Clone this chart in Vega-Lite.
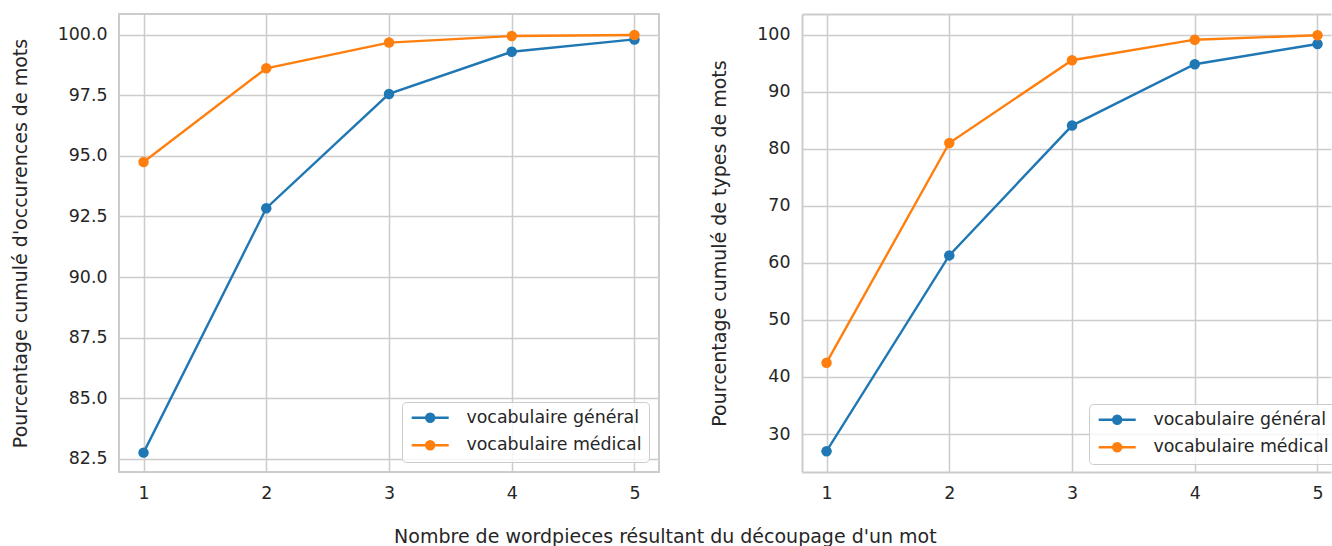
{
  "$schema": "https://vega.github.io/schema/vega-lite/v6.json",
  "padding": {"left": 10, "top": 13, "right": 0, "bottom": 0},
  "background": "white",
  "config": {
    "font": "DejaVu Sans",
    "view": {"stroke": "#cccccc", "strokeWidth": 2},
    "axis": {
      "gridColor": "#cccccc", "gridWidth": 1.5, "domain": false, "ticks": false,
      "domainColor": "#cccccc", "domainWidth": 2,
      "labelFontSize": 17.4, "labelColor": "#262626", "labelPadding": 12,
      "titleFontSize": 19, "titleFontWeight": "normal", "titleColor": "#262626"
    },
    "legend": {
      "orient": "bottom-right", "offset": 10, "title": null,
      "fillColor": "rgba(255,255,255,0.8)", "strokeColor": "#cccccc", "cornerRadius": 4,
      "padding": 7, "labelFontSize": 17.4, "labelColor": "#262626", "labelOffset": 40,
      "labelLimit": 0, "rowPadding": 8.6,
      "symbolType": "M-1,0L5.17,0M1.88,0A0.2,0.2,0,1,1,2.28,0A0.2,0.2,0,1,1,1.88,0M1.58,0A0.5,0.5,0,1,1,2.58,0A0.5,0.5,0,1,1,1.58,0M1.413,0A0.667,0.667,0,1,1,2.747,0A0.667,0.667,0,1,1,1.413,0",
      "symbolSize": 144, "symbolStrokeWidth": 2.4
    },
    "concat": {"spacing": 50}
  },
  "title": {
    "text": "Nombre de wordpieces résultant du découpage d'un mot",
    "orient": "bottom", "anchor": "middle", "fontSize": 19, "fontWeight": "normal",
    "color": "#262626", "offset": 26, "dx": -8
  },
  "datasets": {
    "occ": [
      {"n": 1, "pct": 82.75, "vocab": "vocabulaire général"},
      {"n": 2, "pct": 92.84, "vocab": "vocabulaire général"},
      {"n": 3, "pct": 97.56, "vocab": "vocabulaire général"},
      {"n": 4, "pct": 99.30, "vocab": "vocabulaire général"},
      {"n": 5, "pct": 99.81, "vocab": "vocabulaire général"},
      {"n": 1, "pct": 94.75, "vocab": "vocabulaire médical"},
      {"n": 2, "pct": 98.62, "vocab": "vocabulaire médical"},
      {"n": 3, "pct": 99.68, "vocab": "vocabulaire médical"},
      {"n": 4, "pct": 99.95, "vocab": "vocabulaire médical"},
      {"n": 5, "pct": 99.99, "vocab": "vocabulaire médical"}
    ],
    "typ": [
      {"n": 1, "pct": 27.0, "vocab": "vocabulaire général"},
      {"n": 2, "pct": 61.3, "vocab": "vocabulaire général"},
      {"n": 3, "pct": 84.05, "vocab": "vocabulaire général"},
      {"n": 4, "pct": 94.8, "vocab": "vocabulaire général"},
      {"n": 5, "pct": 98.35, "vocab": "vocabulaire général"},
      {"n": 1, "pct": 42.5, "vocab": "vocabulaire médical"},
      {"n": 2, "pct": 81.0, "vocab": "vocabulaire médical"},
      {"n": 3, "pct": 95.5, "vocab": "vocabulaire médical"},
      {"n": 4, "pct": 99.1, "vocab": "vocabulaire médical"},
      {"n": 5, "pct": 99.88, "vocab": "vocabulaire médical"}
    ]
  },
  "resolve": {"scale": {"color": "independent"}, "legend": {"color": "independent"}},
  "hconcat": [
    {
      "width": 540, "height": 458,
      "data": {"name": "occ"},
      "encoding": {
        "x": {"field": "n", "type": "quantitative",
              "scale": {"domain": [0.8, 5.2], "nice": false, "zero": false},
              "axis": {"values": [1, 2, 3, 4, 5], "format": "d", "title": null}},
        "y": {"field": "pct", "type": "quantitative",
              "scale": {"domain": [81.95, 100.86], "nice": false, "zero": false},
              "axis": {"values": [82.5, 85, 87.5, 90, 92.5, 95, 97.5, 100], "format": ".1f",
                       "title": "Pourcentage cumulé d'occurences de mots", "titlePadding": 27}},
        "color": {"field": "vocab", "type": "nominal",
                  "scale": {"domain": ["vocabulaire général", "vocabulaire médical"], "range": ["#1f77b4", "#ff7f0e"]}}
      },
      "layer": [
        {"mark": {"type": "line", "strokeWidth": 2.4}},
        {"mark": {"type": "point", "filled": true, "size": 110, "opacity": 1}}
      ]
    },
    {
      "width": 529, "height": 458,
      "view": {"stroke": null},
      "data": {"name": "typ"},
      "resolve": {"axis": {"x": "independent"}},
      "layer": [
        {
          "mark": {"type": "line", "strokeWidth": 2.4},
          "encoding": {
            "x": {"field": "n", "type": "quantitative",
                  "scale": {"domain": [0.8, 5.11], "nice": false, "zero": false},
                  "axis": {"values": [1, 2, 3, 4, 5], "format": "d", "title": null, "domain": true}},
            "y": {"field": "pct", "type": "quantitative",
                  "scale": {"domain": [23.35, 103.6], "nice": false, "zero": false},
                  "axis": {"values": [30, 40, 50, 60, 70, 80, 90, 100], "format": "d", "domain": true,
                           "title": "Pourcentage cumulé de types de mots", "titlePadding": 27}},
            "color": {"field": "vocab", "type": "nominal",
                      "scale": {"domain": ["vocabulaire général", "vocabulaire médical"], "range": ["#1f77b4", "#ff7f0e"]},
                      "legend": {"orient": "none", "legendX": 287, "legendY": 390}}
          }
        },
        {
          "mark": {"type": "point", "filled": true, "size": 110, "opacity": 1},
          "encoding": {
            "x": {"field": "n", "type": "quantitative",
                  "scale": {"domain": [0.8, 5.11], "nice": false, "zero": false},
                  "axis": {"orient": "top", "labels": false, "grid": false, "ticks": false, "domain": true, "title": null}},
            "y": {"field": "pct", "type": "quantitative",
                  "scale": {"domain": [23.35, 103.6], "nice": false, "zero": false},
                  "axis": {"values": [30, 40, 50, 60, 70, 80, 90, 100], "format": "d", "domain": true,
                           "title": "Pourcentage cumulé de types de mots", "titlePadding": 27}},
            "color": {"field": "vocab", "type": "nominal",
                      "scale": {"domain": ["vocabulaire général", "vocabulaire médical"], "range": ["#1f77b4", "#ff7f0e"]},
                      "legend": {"orient": "none", "legendX": 287, "legendY": 390}}
          }
        }
      ]
    }
  ]
}
